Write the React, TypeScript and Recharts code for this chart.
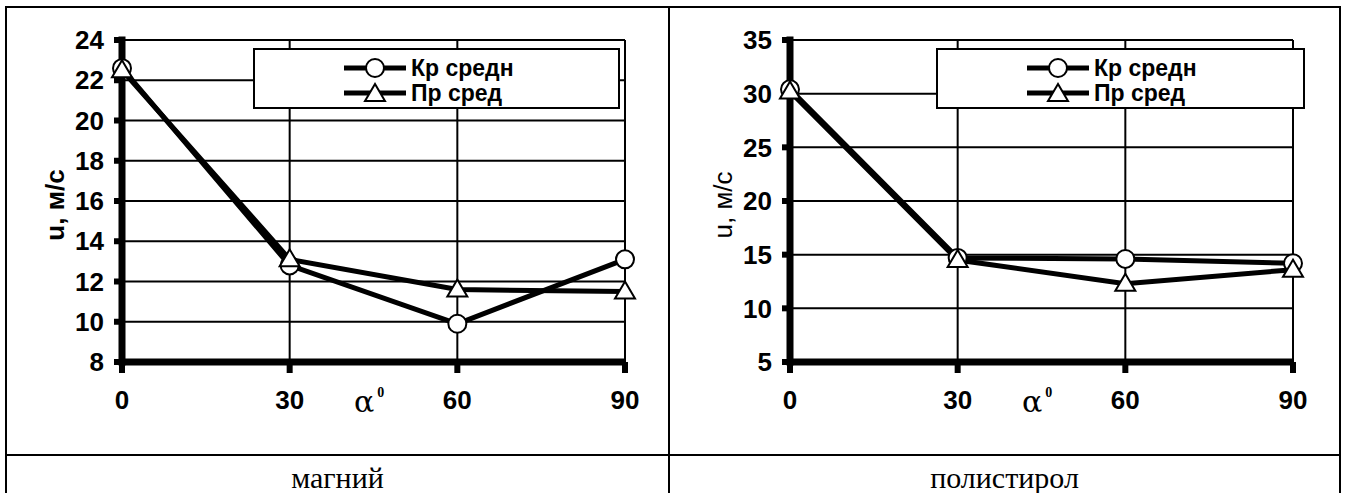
import React from "react";
import { LineChart, Line, XAxis, YAxis, CartesianGrid, Legend } from "recharts";

// angle of incidence, degrees
const angles = [0, 30, 60, 90];

// магний
const magKr = [22.6, 12.8, 9.9, 13.1];
const magPr = [22.5, 13.1, 11.6, 11.5];
const magTicks = [8, 10, 12, 14, 16, 18, 20, 22, 24];

// полистирол
const polKr = [30.4, 14.7, 14.6, 14.2];
const polPr = [30.2, 14.5, 12.3, 13.6];
const polTicks = [5, 10, 15, 20, 25, 30, 35];

const seriesNames = ["Кр средн", "Пр сред"];
const captions = ["магний", "полистирол"];

const sans = "'Liberation Sans', Arial, sans-serif";
const serif = "'Liberation Serif', 'Times New Roman', serif";

const buildRows = (kr: number[], pr: number[]) =>
  angles.map((a, i) => ({ angle: a, kr: kr[i], pr: pr[i] }));

const Circle = (props: any) => {
  const { cx, cy } = props;
  if (cx == null || cy == null) return null;
  return <circle cx={cx} cy={cy} r={9} fill="#fff" stroke="#000" strokeWidth={2} />;
};

const Triangle = (props: any) => {
  const { cx, cy } = props;
  if (cx == null || cy == null) return null;
  return (
    <polygon
      points={`${cx},${cy - 10} ${cx - 10},${cy + 7} ${cx + 10},${cy + 7}`}
      fill="#fff"
      stroke="#000"
      strokeWidth={2}
    />
  );
};

const LegendBox = ({ width }: { width: number }) => (
  <div
    style={{
      width,
      height: 61,
      border: "2px solid #000",
      background: "#fff",
      boxSizing: "border-box",
      position: "relative",
    }}
  >
    {seriesNames.map((name, i) => (
      <div
        key={name}
        style={{ position: "absolute", left: 89, top: 6 + i * 25, height: 24, display: "flex", alignItems: "center" }}
      >
        <svg width={62} height={24} style={{ display: "block" }}>
          <line x1={0} y1={12} x2={62} y2={12} stroke="#000" strokeWidth={5} />
          {i === 0 ? <Circle cx={31} cy={12} /> : <Triangle cx={31} cy={13} />}
        </svg>
        <span style={{ fontFamily: sans, fontWeight: 700, fontSize: 23, marginLeft: 5, lineHeight: "24px", color: "#000" }}>
          {name}
        </span>
      </div>
    ))}
  </div>
);

const Panel = ({
  left,
  kr,
  pr,
  ticks,
  boldTitle,
  legendLeft,
  legendWidth,
}: {
  left: number;
  kr: number[];
  pr: number[];
  ticks: number[];
  boldTitle: boolean;
  legendLeft: number;
  legendWidth: number;
}) => {
  const rows = buildRows(kr, pr);
  return (
    <div style={{ position: "absolute", left, top: 0 }}>
      <LineChart width={672} height={440} data={rows} margin={{ top: 40, right: 47, left: 0, bottom: 38 }}>
        <CartesianGrid stroke="#000" strokeWidth={2} />
        <XAxis
          dataKey="angle"
          type="number"
          domain={[0, 90]}
          ticks={angles}
          height={40}
          axisLine={{ stroke: "#000", strokeWidth: 7 }}
          tickLine={{ stroke: "#000", strokeWidth: 6 }}
          tickSize={11}
          tickMargin={18}
          tick={{ fill: "#000", fontSize: 26, fontWeight: 700, fontFamily: sans }}
          label={{
            content: (p: any) => {
              const vb = p.viewBox;
              return (
                <text x={vb.x + 232} y={vb.y + 50} fontFamily="'DejaVu Serif', serif" fontSize={30} fill="#000">
                  α
                  <tspan dx={3} dy={-15} fontSize={14} fontWeight={700} fontFamily={serif}>
                    0
                  </tspan>
                </text>
              );
            },
          }}
        />
        <YAxis
          type="number"
          domain={[ticks[0], ticks[ticks.length - 1]]}
          ticks={ticks}
          width={122}
          interval={0}
          axisLine={{ stroke: "#000", strokeWidth: 7, strokeLinecap: "square" }}
          tickLine={{ stroke: "#000", strokeWidth: 6 }}
          tickSize={8}
          tickMargin={10}
          tick={{ fill: "#000", fontSize: 26, fontWeight: 700, fontFamily: sans }}
          label={{
            content: (p: any) => {
              const vb = p.viewBox;
              const x = vb.x + 64;
              const y = vb.y + vb.height / 2 + 4;
              return (
                <text
                  x={x}
                  y={y}
                  transform={`rotate(-90 ${x} ${y})`}
                  textAnchor="middle"
                  fontFamily={sans}
                  fontSize={26}
                  fontWeight={boldTitle ? 700 : 400}
                  fill="#000"
                >
                  u, м/с
                </text>
              );
            },
          }}
        />
        <Legend
          layout="horizontal"
          verticalAlign="middle"
          align="center"
          content={() => <LegendBox width={legendWidth} />}
          wrapperStyle={{ position: "absolute", left: legendLeft, top: 48, width: legendWidth, height: 61 }}
        />
        <Line
          dataKey="kr"
          name={seriesNames[0]}
          stroke="#000"
          strokeWidth={5}
          dot={<Circle />}
          activeDot={false}
          isAnimationActive={false}
        />
        <Line
          dataKey="pr"
          name={seriesNames[1]}
          stroke="#000"
          strokeWidth={5}
          dot={<Triangle />}
          activeDot={false}
          isAnimationActive={false}
        />
      </LineChart>
    </div>
  );
};

const rule = (style: React.CSSProperties) => (
  <div style={{ position: "absolute", background: "#000", ...style }} />
);

export default function App() {
  return (
    <div style={{ position: "absolute", left: 0, top: 0, width: 1346, height: 493, background: "#fff", overflow: "hidden" }}>
      <Panel left={0} kr={magKr} pr={magPr} ticks={magTicks} boldTitle={true} legendLeft={253} legendWidth={367} />
      <Panel left={668} kr={polKr} pr={polPr} ticks={polTicks} boldTitle={false} legendLeft={268} legendWidth={369} />
      {rule({ left: 5, top: 6, width: 1336, height: 2 })}
      {rule({ left: 5, top: 454, width: 1336, height: 2 })}
      {rule({ left: 5, top: 6, width: 2, height: 500 })}
      {rule({ left: 668, top: 6, width: 2, height: 500 })}
      {rule({ left: 1339, top: 6, width: 2, height: 500 })}
      {captions.map((c, i) => (
        <div
          key={c}
          style={{
            position: "absolute",
            left: i === 0 ? 7 : 670,
            width: i === 0 ? 661 : 669,
            top: 460,
            textAlign: "center",
            fontFamily: serif,
            fontSize: 30,
            lineHeight: "36px",
            color: "#000",
          }}
        >
          {c}
        </div>
      ))}
    </div>
  );
}
